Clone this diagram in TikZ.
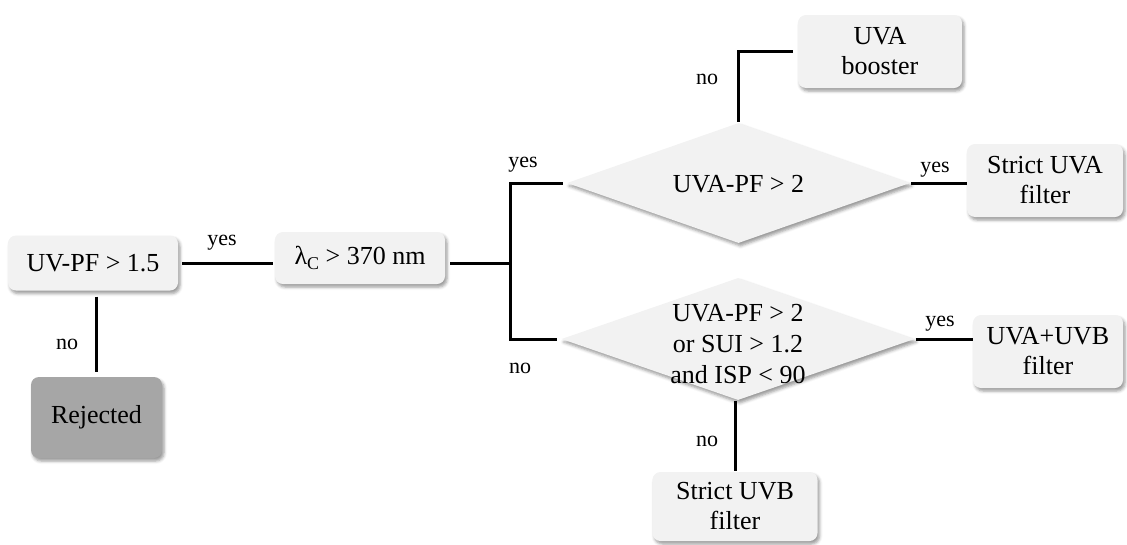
\documentclass[tikz,border=0pt]{standalone}
\usepackage{fontspec}
\setmainfont{Liberation Serif}
\newfontfamily\tmsfont{Liberation Serif}
\usetikzlibrary{shapes.geometric,shadows.blur}
\definecolor{boxfill}{HTML}{F2F2F2}
\definecolor{rejfill}{HTML}{A6A6A6}
\begin{document}
\begin{tikzpicture}[x=1pt,y=-1pt,
  softshadow/.style={blur shadow={shadow xshift=2pt, shadow yshift=-3pt, shadow blur radius=3pt, shadow opacity=40}},
  box/.style={rectangle, rounded corners=8pt, fill=boxfill, align=center, inner sep=0pt,
    font=\tmsfont\fontsize{26}{30}\selectfont, softshadow},
  dec/.style={diamond, fill=boxfill, inner sep=0pt, softshadow},
  dectext/.style={font=\tmsfont\fontsize{26}{31}\selectfont, align=center},
  lbl/.style={font=\tmsfont\fontsize{22}{24}\selectfont, inner sep=0pt},
  conn/.style={line width=3pt}]
\useasboundingbox (0,0) rectangle (1127,544);

% nodes
\node[box, minimum width=170, minimum height=55] (uv) at (93,263) {UV-PF > 1.5};
\node[box, minimum width=131, minimum height=81, fill=rejfill] (rej) at (96.5,417.5) {Rejected};
\node[box, minimum width=170, minimum height=52] (lam) at (360,258)
  {λ\raisebox{-0.35ex}{\fontsize{18}{18}\selectfont C} > 370 nm};
\node[dec, minimum width=343, minimum height=120,
  label={[dectext, yshift=-1pt]center:UVA-PF > 2}] (d1) at (738.5,183) {};
\node[dec, minimum width=353, minimum height=122,
  label={[dectext, yshift=-5pt]center:UVA-PF > 2\\or SUI > 1.2\\and ISP < 90}] (d2) at (738,339) {};
\node[box, minimum width=164, minimum height=73] (boost) at (880,51.5) {UVA\\booster};
\node[box, minimum width=156, minimum height=73] (suva) at (1045,180.5) {Strict UVA\\filter};
\node[box, minimum width=150, minimum height=73] (uvab) at (1048,351.5) {UVA+UVB\\filter};
\node[box, minimum width=165, minimum height=69] (suvb) at (735,506.5) {Strict UVB\\filter};

\coordinate (j) at (510,263);

% connectors
\draw[conn, shorten <=4pt, shorten >=2pt] (uv.east) -- (uv.east -| lam.west);
\draw[conn, shorten <=6pt, shorten >=5pt] (rej.north |- uv.south) -- (rej.north);
\draw[conn, shorten <=5pt] (lam.east |- j) -- (j);
\draw[conn, shorten <=4pt, shorten >=4pt] (d1.west) -| (j) |- (d2.west);
\draw[conn, shorten <=1pt] (d1.east) -- (d1.east -| suva.west);
\draw[conn, shorten <=1pt, shorten >=5pt] (d1.north) |- (boost.west);
\draw[conn, shorten <=1pt] (d2.east) -- (d2.east -| uvab.west);
\draw[conn, shorten <=1pt, shorten >=1pt] (suvb.north |- d2.south) -- (suvb.north);

% labels
\node[lbl] (l1) at (222,243) {yes};
\node[lbl] (l2) at (67,344) {no};
\node[lbl] (l3) at (523,165) {yes};
\node[lbl] (l4) at (520,368) {no};
\node[lbl] (l5) at (707,79) {no};
\node[lbl] (l6) at (935,170) {yes};
\node[lbl] (l7) at (940,324) {yes};
\node[lbl] (l8) at (707,441) {no};
\end{tikzpicture}
\end{document}
